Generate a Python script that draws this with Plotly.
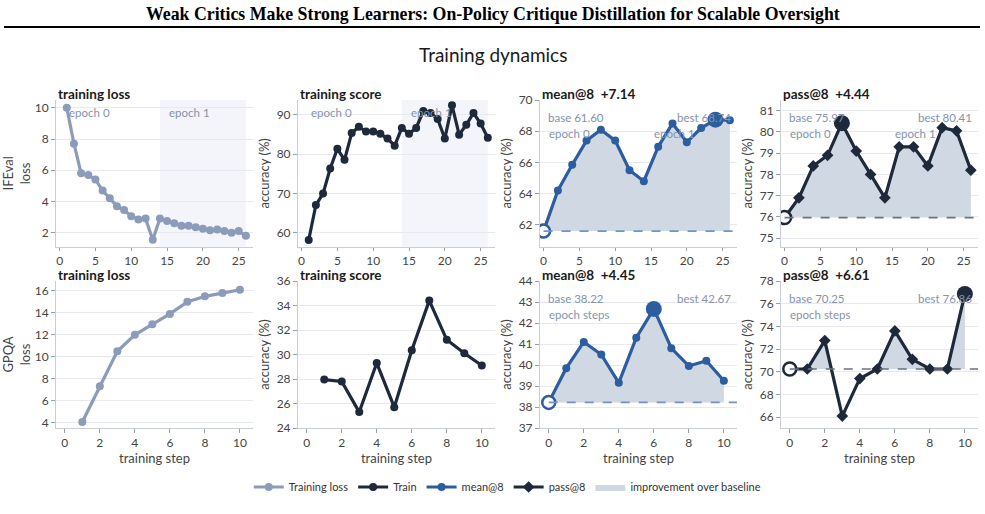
import plotly.graph_objects as go
from plotly.subplots import make_subplots

# ---------------- data ----------------
steps_ifeval = list(range(1, 27))
ifeval_loss = [10.0, 7.7, 5.8, 5.7, 5.4, 4.7, 4.2, 3.7, 3.45, 3.05, 2.85, 2.9, 1.55,
               2.9, 2.75, 2.6, 2.45, 2.45, 2.35, 2.25, 2.15, 2.2, 2.1, 2.0, 2.1, 1.8]
ifeval_score = [58.2, 67.1, 70.0, 76.4, 81.4, 78.6, 85.4, 87.0, 85.8, 85.8, 85.2, 84.0, 82.2,
                86.7, 85.2, 86.7, 91.0, 90.5, 89.0, 84.0, 92.5, 85.0, 87.5, 90.5, 87.8, 84.2]
eval_steps_ifeval = [0, 2, 4, 6, 8, 10, 12, 14, 16, 18, 20, 22, 24, 26]
ifeval_mean8 = [61.60, 64.2, 65.85, 67.4, 68.1, 67.4, 65.5, 64.8, 67.0, 68.5, 67.3, 68.2, 68.74, 68.7]
ifeval_pass8 = [75.97, 76.9, 78.4, 78.9, 80.41, 79.1, 78.0, 76.9, 79.3, 79.3, 78.4, 80.2, 80.05, 78.2]

steps_gpqa = list(range(1, 11))
gpqa_loss = [4.05, 7.3, 10.5, 12.0, 12.95, 13.9, 15.0, 15.5, 15.8, 16.1]
gpqa_score = [27.95, 27.8, 25.3, 29.3, 25.7, 30.35, 34.4, 31.2, 30.1, 29.1]
eval_steps_gpqa = list(range(0, 11))
gpqa_mean8 = [38.22, 39.85, 41.1, 40.5, 39.15, 41.3, 42.67, 40.8, 39.95, 40.2, 39.25]
gpqa_pass8 = [70.25, 70.25, 72.75, 66.1, 69.4, 70.25, 73.6, 71.1, 70.25, 70.25, 76.86]

epoch1_start, epoch1_end = 14, 26

# ---------------- style ----------------
FONT = "Lato"
C_LOSS = "#8b9cba"
C_TRAIN = "#1e293b"
C_MEAN = "#2c5d9f"
C_PASS = "#1e293b"
C_FILL = "#cfd8e3"
C_ANN = "#8593ad"
C_GRID = "#e6e9ef"
C_AXIS = "#c9ced6"

fig = make_subplots(rows=2, cols=4)

cols_dom = [(0.0569, 0.2569), (0.3025, 0.5025), (0.5482, 0.7482), (0.7929, 0.9929)]
rows_dom = [(0.520, 0.8054), (0.1673, 0.4533)]
legend_rank = {"Training loss": 1, "Train": 2, "mean@8": 3, "pass@8": 4,
               "improvement over baseline": 5}

annotations = []
shapes = []
legend_shown = set()


def ax_name(r, c):
    n = (r - 1) * 4 + c
    return ("x" if n == 1 else f"x{n}"), ("y" if n == 1 else f"y{n}")


def add_line(r, c, x, y, color, name, symbol="circle", msize=8):
    show = name not in legend_shown
    legend_shown.add(name)
    fig.add_trace(go.Scatter(x=x, y=y, mode="lines+markers", name=name, showlegend=show,
                             legendrank=legend_rank[name],
                             line=dict(color=color, width=3.2),
                             marker=dict(color=color, size=msize, symbol=symbol)),
                  row=r, col=c)


def add_improvement(r, c, x, y, base):
    # polygon of the region where the curve is above the baseline
    px, py = [], []
    for i in range(len(x)):
        if i > 0:
            y0, y1 = y[i - 1] - base, y[i] - base
            if (y0 > 0 > y1) or (y0 < 0 < y1):
                t = y0 / (y0 - y1)
                px.append(x[i - 1] + t * (x[i] - x[i - 1]))
                py.append(base)
        px.append(x[i])
        py.append(max(y[i], base))
    px += [x[-1], x[0], x[0]]
    py += [base, base, py[0]]
    name = "improvement over baseline"
    show = name not in legend_shown
    legend_shown.add(name)
    fig.add_trace(go.Scatter(x=px, y=py, mode="lines", fill="toself", fillcolor=C_FILL,
                             line=dict(width=0, color=C_FILL), hoverinfo="skip",
                             name=name, showlegend=show, legendrank=legend_rank[name]),
                  row=r, col=c)


def eval_panel(r, c, x, y, color, name, symbol, base_dash_color, xmax, epoch_labels):
    xa, ya = ax_name(r, c)
    base = y[0]
    best_i = max(range(len(y)), key=lambda i: y[i])
    add_improvement(r, c, x, y, base)
    shapes.append(dict(type="line", xref=xa, yref=ya, x0=x[0], x1=xmax, y0=base, y1=base,
                       line=dict(color=base_dash_color, width=1.6, dash="dash"), layer="above"))
    add_line(r, c, x, y, color, name, symbol=symbol, msize=8 if symbol == "circle" else 9)
    fig.add_trace(go.Scatter(x=[x[best_i]], y=[y[best_i]], mode="markers", showlegend=False,
                             marker=dict(color=color, size=16, symbol="circle")), row=r, col=c)
    fig.add_trace(go.Scatter(x=[x[0]], y=[base], mode="markers", showlegend=False,
                             marker=dict(color="white", size=13, symbol="circle",
                                         line=dict(color=color, width=2.5))), row=r, col=c)
    dom = f"{xa} domain"
    ydom = f"{ya} domain"
    annotations.append(dict(text=f"base {base:.2f}", xref=dom, yref=ydom, x=0, y=1,
                            xanchor="left", yanchor="middle", xshift=6, yshift=-17,
                            showarrow=False, font=dict(size=11.5, color=C_ANN, family=FONT)))
    annotations.append(dict(text=f"best {y[best_i]:.2f}", xref=dom, yref=ydom, x=1, y=1,
                            xanchor="right", yanchor="middle", xshift=-4, yshift=-17,
                            showarrow=False, font=dict(size=11.5, color=C_ANN, family=FONT)))
    for txt, xv in epoch_labels:
        if xv is None:
            annotations.append(dict(text=txt, xref=dom, yref=ydom, x=0, y=1, xanchor="left",
                                    yanchor="middle", xshift=7, yshift=-33, showarrow=False,
                                    font=dict(size=11.5, color=C_ANN, family=FONT)))
        else:
            annotations.append(dict(text=txt, xref=xa, yref=ydom, x=xv, y=1, xanchor="left",
                                    yanchor="middle", xshift=8, yshift=-33, showarrow=False,
                                    font=dict(size=11.5, color=C_ANN, family=FONT)))
    delta = y[best_i] - base
    return f"{name}  +{delta:.2f}"


def epoch_shading(r, c):
    xa, ya = ax_name(r, c)
    shapes.append(dict(type="rect", xref=xa, yref=f"{ya} domain", x0=epoch1_start, x1=epoch1_end,
                       y0=0, y1=1, fillcolor="#f3f5fa", line=dict(width=0), layer="below"))
    annotations.append(dict(text="epoch 0", xref=xa, yref=f"{ya} domain", x=0, y=1,
                            xanchor="left", yanchor="middle", xshift=7, yshift=-12,
                            showarrow=False, font=dict(size=11.5, color=C_ANN, family=FONT)))
    annotations.append(dict(text="epoch 1", xref=xa, yref=f"{ya} domain", x=epoch1_start, y=1,
                            xanchor="left", yanchor="middle", xshift=7, yshift=-12,
                            showarrow=False, font=dict(size=11.5, color=C_ANN, family=FONT)))


# ---- top row (IFEval) ----
epoch_shading(1, 1)
add_line(1, 1, steps_ifeval, ifeval_loss, C_LOSS, "Training loss")
epoch_shading(1, 2)
add_line(1, 2, steps_ifeval, ifeval_score, C_TRAIN, "Train")
t13 = eval_panel(1, 3, eval_steps_ifeval, ifeval_mean8, C_MEAN, "mean@8", "circle", "#6f93c9", 27,
                 [("epoch 0", None), ("epoch 1", epoch1_start)])
t14 = eval_panel(1, 4, eval_steps_ifeval, ifeval_pass8, C_PASS, "pass@8", "diamond", "#6b7280", 27,
                 [("epoch 0", None), ("epoch 1", epoch1_start)])

# ---- bottom row (GPQA) ----
add_line(2, 1, steps_gpqa, gpqa_loss, C_LOSS, "Training loss")
add_line(2, 2, steps_gpqa, gpqa_score, C_TRAIN, "Train")
t23 = eval_panel(2, 3, eval_steps_gpqa, gpqa_mean8, C_MEAN, "mean@8", "circle", "#6f93c9", 10.75,
                 [("epoch steps", None)])
t24 = eval_panel(2, 4, eval_steps_gpqa, gpqa_pass8, C_PASS, "pass@8", "diamond", "#6b7280", 10.75,
                 [("epoch steps", None)])

titles = {(1, 1): "training loss", (1, 2): "training score", (1, 3): t13, (1, 4): t14,
          (2, 1): "training loss", (2, 2): "training score", (2, 3): t23, (2, 4): t24}
yranges = {(1, 1): [1.1, 10.5], (1, 2): [56.5, 93.8], (1, 3): [60.6, 70], (1, 4): [74.6, 81.5],
           (2, 1): [3.5, 16.9], (2, 2): [24, 36], (2, 3): [37, 44], (2, 4): [65.05, 78]}
ydticks = {(1, 1): 2, (1, 2): 10, (1, 3): 2, (1, 4): 1,
           (2, 1): 2, (2, 2): 2, (2, 3): 1, (2, 4): 2}
ytitles = {(1, 1): "IFEval<br>loss", (2, 1): "GPQA<br>loss"}

for r in (1, 2):
    for c in (1, 2, 3, 4):
        xa, ya = ax_name(r, c)
        n = (r - 1) * 4 + c
        xkey = "xaxis" if n == 1 else f"xaxis{n}"
        ykey = "yaxis" if n == 1 else f"yaxis{n}"
        fig.layout[xkey].update(
            domain=cols_dom[c - 1], range=[-0.5, 27] if r == 1 else [-0.5, 10.75],
            dtick=5 if r == 1 else 2, tick0=0, showgrid=False, zeroline=False,
            showline=True, linecolor=C_AXIS, linewidth=1, ticks="outside",
            ticklen=3 if r == 1 else 4,
            tickcolor="#9aa0aa", tickfont=dict(size=12, color="#444", family=FONT),
            automargin=False,
            title=dict(text="training step" if r == 2 else "", standoff=2,
                       font=dict(size=13, color="#444", family=FONT)))
        fig.layout[ykey].update(
            domain=rows_dom[r - 1], range=yranges[(r, c)], dtick=ydticks[(r, c)],
            showgrid=True, gridcolor=C_GRID, gridwidth=1, zeroline=False,
            showline=True, linecolor=C_AXIS, linewidth=1, ticks="outside", ticklen=4,
            tickcolor="#9aa0aa", tickfont=dict(size=12, color="#444", family=FONT),
            automargin=False,
            title=dict(text=ytitles.get((r, c), "accuracy (%)"), standoff=4,
                       font=dict(size=13, color="#444", family=FONT)))
        annotations.append(dict(text=f"<b>{titles[(r, c)]}</b>", xref=f"{xa} domain",
                                yref=f"{ya} domain", x=0, y=1, xanchor="left", yanchor="bottom",
                                yshift=-4, showarrow=False,
                                font=dict(size=13.5, color="#1a1a1a", family=FONT)))

annotations.append(dict(text="<b>Weak Critics Make Strong Learners: On-Policy Critique Distillation for Scalable Oversight</b>",
                        xref="paper", yref="paper", x=0.5, y=1 - 14 / 514, xanchor="center",
                        yanchor="middle", showarrow=False,
                        font=dict(size=17.8, color="black", family="Liberation Serif")))
annotations.append(dict(text="Training dynamics", xref="paper", yref="paper", x=0.5,
                        y=1 - 55 / 514, xanchor="center", yanchor="middle", showarrow=False,
                        font=dict(size=19, color="#1a1a1a", family=FONT)))
shapes.append(dict(type="line", xref="paper", yref="paper", x0=4 / 985, x1=980 / 985,
                   y0=1 - 27 / 514, y1=1 - 27 / 514, line=dict(color="black", width=2)))

fig.update_layout(
    width=985, height=514, margin=dict(l=0, r=0, t=0, b=0, autoexpand=False),
    paper_bgcolor="white", plot_bgcolor="white",
    font=dict(family=FONT, color="#333"),
    annotations=annotations, shapes=shapes,
    legend=dict(orientation="h", x=0.515, xanchor="center", y=1 - 487 / 514, yanchor="middle",
                font=dict(size=11, color="#333", family=FONT), itemwidth=30,
                tracegroupgap=0, bgcolor="rgba(0,0,0,0)"),
)

fig.write_html("out.html")
